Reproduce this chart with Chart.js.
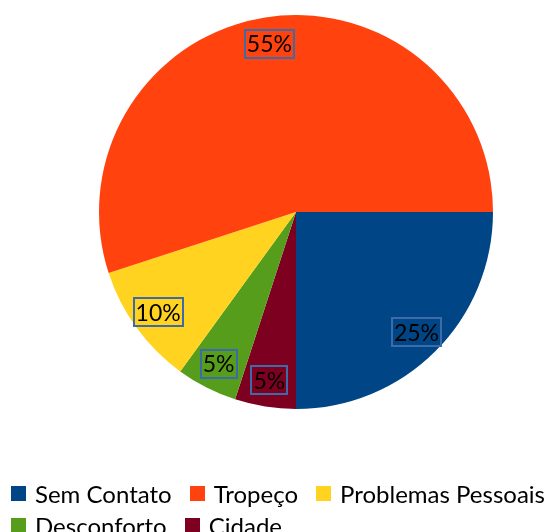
<!DOCTYPE html>
<html>
<head>
<meta charset="utf-8">
<script src="https://cdn.jsdelivr.net/npm/chart.js@4/dist/chart.umd.min.js"></script>
<style>
  html, body { margin: 0; padding: 0; background: #fff; overflow: hidden; }
  #wrap { position: relative; width: 545px; height: 532px; }
  #legend { position: absolute; left: 11px; top: 477px; font-family: Lato, sans-serif; font-size: 24px; color: #000; }
  .row { display: flex; height: 32px; align-items: center; white-space: nowrap; }
  .item { display: flex; align-items: center; margin-right: 18px; }
  .box { width: 15px; height: 15px; margin-right: 9px; }
</style>
</head>
<body>
<div id="wrap">
  <canvas id="pie" width="545" height="532"></canvas>
  <div id="legend"></div>
</div>
<script>
const categories = ['Sem Contato', 'Tropeço', 'Problemas Pessoais', 'Desconforto', 'Cidade'];
const values = [25, 55, 10, 5, 5];
const colors = ['#004586', '#ff420e', '#ffd320', '#579d1c', '#7e0021'];
const legendRows = [[0, 1, 2], [3, 4]];

// the slices run counter-clockwise from 6 o'clock, chart.js draws clockwise
const order = [4, 3, 2, 1, 0];

const percentLabels = {
    id: 'percentLabels',
    afterDatasetsDraw(chart) {
        const ctx = chart.ctx;
        const meta = chart.getDatasetMeta(0);
        const total = values.reduce((a, b) => a + b, 0);
        ctx.save();
        ctx.font = '23px Lato, sans-serif';
        ctx.textAlign = 'center';
        ctx.textBaseline = 'middle';
        meta.data.forEach((arc, i) => {
            const mid = (arc.startAngle + arc.endAngle) / 2;
            const r = arc.outerRadius * 0.865;
            const x = arc.x + Math.cos(mid) * r;
            const y = arc.y + Math.sin(mid) * r;
            const text = Math.round(values[order[i]] / total * 100) + '%';
            const w = ctx.measureText(text).width + 4;
            const h = 28;
            ctx.strokeStyle = '#3d6aa8';
            ctx.lineWidth = 2;
            ctx.strokeRect(Math.round(x - w / 2), Math.round(y - h / 2), Math.round(w), h);
            ctx.fillStyle = '#000';
            ctx.fillText(text, x, y + 1);
        });
        ctx.restore();
    }
};

new Chart(document.getElementById('pie').getContext('2d'), {
    type: 'pie',
    data: {
        labels: order.map(i => categories[i]),
        datasets: [{
            data: order.map(i => values[i]),
            backgroundColor: order.map(i => colors[i]),
            borderWidth: 0,
            hoverOffset: 0
        }]
    },
    options: {
        responsive: false,
        animation: false,
        rotation: 180,
        layout: { padding: { left: 99, right: 52, top: 15, bottom: 123 } },
        plugins: { legend: { display: false }, tooltip: { enabled: false } }
    },
    plugins: [percentLabels]
});

const legend = document.getElementById('legend');
legendRows.forEach(row => {
    const rowEl = document.createElement('div');
    rowEl.className = 'row';
    row.forEach(i => {
        const item = document.createElement('div');
        item.className = 'item';
        const box = document.createElement('span');
        box.className = 'box';
        box.style.background = colors[i];
        const label = document.createElement('span');
        label.textContent = categories[i];
        item.appendChild(box);
        item.appendChild(label);
        rowEl.appendChild(item);
    });
    legend.appendChild(rowEl);
});
</script>
</body>
</html>
